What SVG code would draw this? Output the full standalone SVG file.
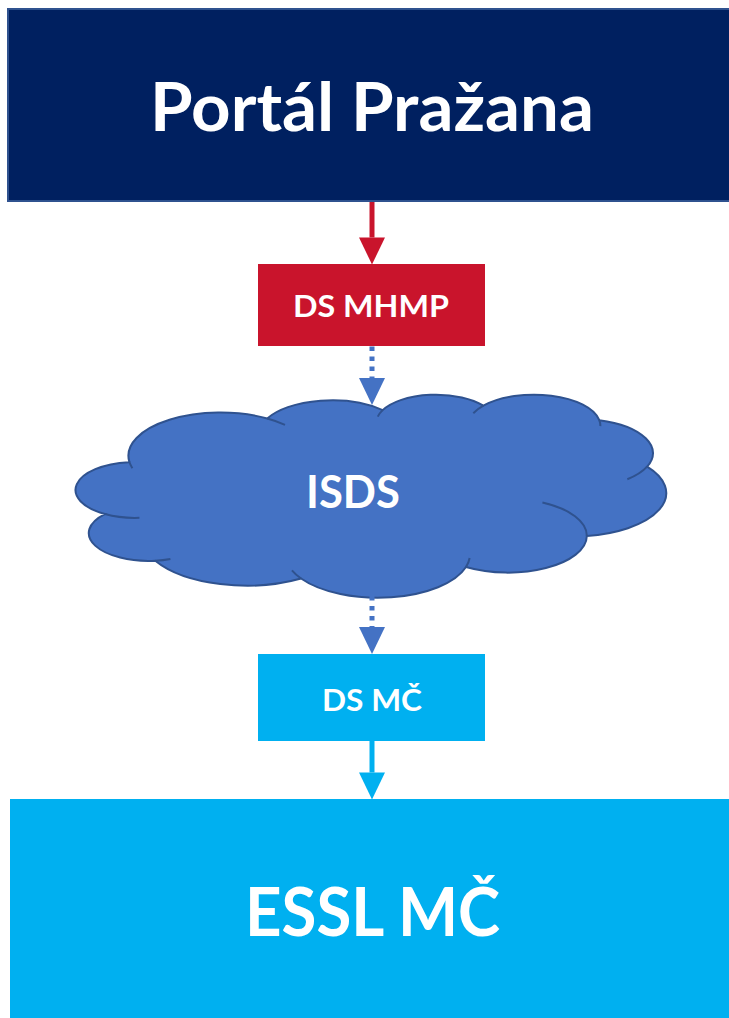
<svg xmlns="http://www.w3.org/2000/svg" width="729" height="1018" viewBox="0 0 729 1018">
  <defs>
    <style>
      .lbl { font-family: Lato, "Open Sans", "Liberation Sans", sans-serif; font-weight: bold; fill: #FFFFFF; text-anchor: middle; }
      .shaft { fill: none; stroke-width: 5; }
      .cloudline { stroke: #2F528F; stroke-width: 2; vector-effect: non-scaling-stroke; }
    </style>
    <marker id="ahRed" markerUnits="userSpaceOnUse" markerWidth="28" markerHeight="28" refX="0" refY="13" orient="auto" overflow="visible">
      <path d="M0,0 L27,13 L0,26 Z" fill="#C9142C"/>
    </marker>
    <marker id="ahBlue" markerUnits="userSpaceOnUse" markerWidth="28" markerHeight="28" refX="0" refY="13" orient="auto" overflow="visible">
      <path d="M0,0 L27,13 L0,26 Z" fill="#4472C4"/>
    </marker>
    <marker id="ahCyan" markerUnits="userSpaceOnUse" markerWidth="28" markerHeight="28" refX="0" refY="13" orient="auto" overflow="visible">
      <path d="M0,0 L27,13 L0,26 Z" fill="#00B0F0"/>
    </marker>
  </defs>

  <rect width="729" height="1018" fill="#FFFFFF"/>

  <g id="portal-prazana">
    <rect x="8" y="9" width="730" height="192" fill="#002060" stroke="#2F528F" stroke-width="2"/>
    <text class="lbl" x="372" y="131" font-size="67" textLength="444" lengthAdjust="spacingAndGlyphs">Portál Pražana</text>
  </g>

  <g id="ds-mhmp">
    <rect x="258" y="264" width="227" height="82" fill="#C9142C"/>
    <text class="lbl" x="371" y="317" font-size="31" textLength="156" lengthAdjust="spacingAndGlyphs">DS MHMP</text>
  </g>

  <g id="isds">
    <g transform="translate(76,394) scale(0.013657,0.0047)">
      <path class="cloudline" fill="#4472C4" d="M3900,14370 A6753,9190 0 0 1 14005,5201.7 A5333,7267 0 0 1 22455.9,3431.7 A4365,5945 0 0 1 29832.9,2480.4 A4857,6595 0 0 1 38318.2,5575.7 A5333,7273 0 0 1 41818.5,15459.5 A6775,9220 0 0 1 37404.4,30202.8 A5785,7867 0 0 1 28556.1,36813.1 A6752,9215 0 0 1 16480.4,39263.9 A7720,10543 0 0 1 5804.7,35469.7 A4360,5918 0 0 1 2113.3,25548 A4345,5945 0 0 1 3863.4,14504.3 Z"/>
      <path class="cloudline" fill="none" d="M4646.5,26344.9 A4345,5945 0 0 1 2113.3,25548 M6913.2,35088.2 A4360,5918 0 0 1 5804.7,35469.7 M16480.4,39263.9 A6752,9215 0 0 1 15812.6,37523.5 M28822.7,34903.8 A6752,9215 0 0 1 28556.1,36813.1 M34153.2,23067.4 A5785,7867 0 0 1 37404.4,30202.8 M41818.5,15459.5 A5333,7273 0 0 1 40370.3,18135.5 M38318.2,5575.7 A4857,6595 0 0 1 38394.6,6839.2 M29091.5,4091.3 A4857,6595 0 0 1 29832.9,2480.4 M22096.6,4821.6 A4365,5945 0 0 1 22455.9,3431.7 M14005,5201.7 A6753,9190 0 0 1 15305.1,6550.5 M4126.8,15788.7 A6753,9190 0 0 1 3900,14370"/>
    </g>
    <text class="lbl" x="353" y="508" font-size="46" textLength="94" lengthAdjust="spacingAndGlyphs">ISDS</text>
  </g>

  <g id="ds-mc">
    <rect x="258" y="654" width="227" height="87" fill="#00B0F0"/>
    <text class="lbl" x="372" y="711" font-size="31" textLength="100" lengthAdjust="spacingAndGlyphs">DS MČ</text>
  </g>

  <g id="essl-mc">
    <rect x="10" y="799" width="730" height="230" fill="#00B0F0"/>
    <text class="lbl" x="372.5" y="936" font-size="67" textLength="255" lengthAdjust="spacingAndGlyphs">ESSL MČ</text>
  </g>

  <g id="connectors">
    <line class="shaft" x1="372" y1="202" x2="372" y2="237.5" stroke="#C9142C" marker-end="url(#ahRed)"/>
    <line class="shaft" x1="372" y1="346.5" x2="372" y2="378" stroke="#4472C4" stroke-dasharray="4.5 5.5" marker-end="url(#ahBlue)"/>
    <line class="shaft" x1="372" y1="596" x2="372" y2="627" stroke="#4472C4" stroke-dasharray="4.5 5.5" marker-end="url(#ahBlue)"/>
    <line class="shaft" x1="372" y1="741" x2="372" y2="772.5" stroke="#00B0F0" marker-end="url(#ahCyan)"/>
  </g>
</svg>
